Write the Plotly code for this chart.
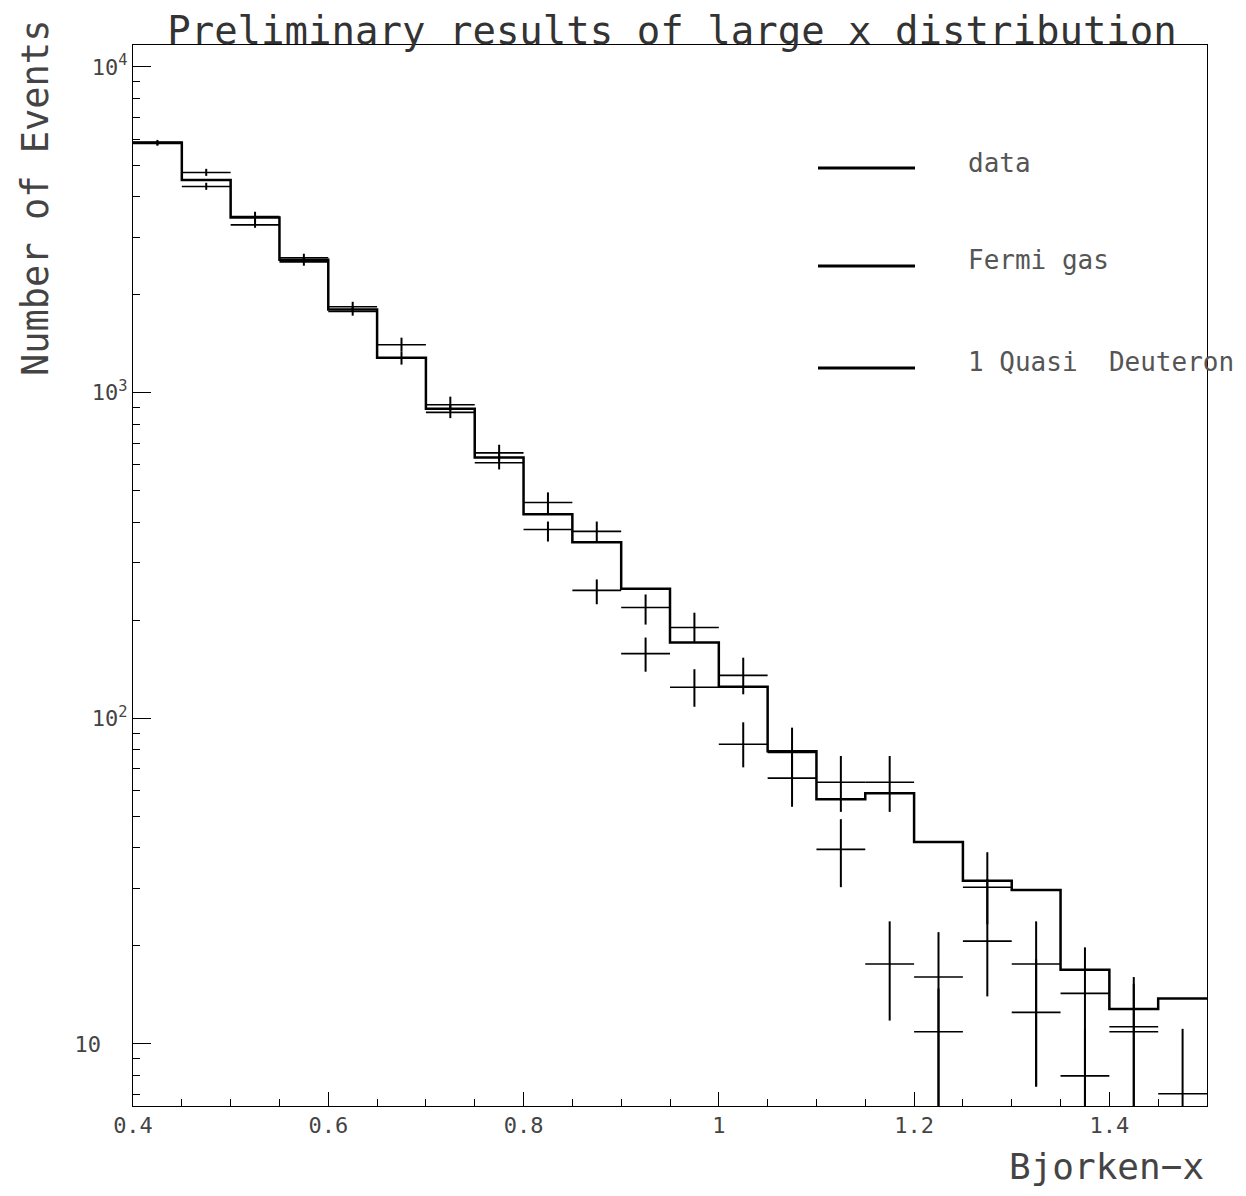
import math
import plotly.graph_objects as go

# ---------------- data ----------------
x_edges = [0.40, 0.45, 0.50, 0.55, 0.60, 0.65, 0.70, 0.75, 0.80, 0.85, 0.90,
           0.95, 1.00, 1.05, 1.10, 1.15, 1.20, 1.25, 1.30, 1.35, 1.40, 1.45, 1.50]

# step histogram ("1 Quasi Deuteron")
qd_hist = [5860, 4500, 3450, 2560, 1800, 1280, 893, 632, 423, 347, 250,
           171, 125, 79.2, 56.4, 58.9, 41.7, 31.7, 29.7, 16.9, 12.8, 13.8]

# upper set of crosses ("Fermi gas")
fermi_vals = [5860, 4740, 3470, 2595, 1835, 1403, 918, 653, 460, 375, 219,
              190, 135.5, 78.6, 63.6, 63.6, 16.05, 30.3, 17.6, 14.3, 11.3, 7.03]
fermi_err_up = [110, 126, 122, 75, 66, 72, 54, 39, 34, 27, 21,
                21, 18, 15, 13, 13, 6, 8.5, 6.2, 5.5, 4.75, 4.1]
fermi_err_dn = [95, 110, 125, 70, 60, 67, 38, 35, 37, 28, 25,
                19, 17, 13, 12, 12, 11, 7, 10.2, 10, 8, 4]

# lower set of crosses ("data")
data_vals = [5820, 4295, 3275, 2520, 1775, 1280, 870, 609, 380, 247, 158,
             124.5, 83.2, 65.5, 39.6, 17.6, 10.9, 20.7, 12.5, 7.98, 10.9, None]
data_err_up = [90, 114, 115, 75, 60, 56, 48, 36, 22, 20, 19,
               17, 14, 12, 9.4, 6.2, 3.9, 11.4, 5.7, 3.1, 4.4, None]
data_err_dn = [90, 100, 67, 67, 52, 61, 35, 28, 31, 23, 19,
               16, 12.5, 12, 9.3, 5.8, 6, 6.7, 5.1, 4, 6, None]

legend_labels = ["data", "Fermi gas", "1 Quasi\u00a0 Deuteron"]
title_text = "Preliminary results of large x distribution"
x_title = "Bjorken\u2212x"
y_title = "Number of Events"
y_tick_vals = [10, 100, 1000, 10000]
y_tick_text = ["10\u00a0\u00a0", "10<sup>2</sup>", "10<sup>3</sup>", "10<sup>4</sup>"]

# ---------------- derived ----------------
x_centers = [(a + b) / 2 for a, b in zip(x_edges[:-1], x_edges[1:])]
half_w = [(b - a) / 2 for a, b in zip(x_edges[:-1], x_edges[1:])]

OFF = 8                      # page body margin
W, H = 1230, 1180            # figure size
L, R, T, B = 133, 1207, 45, 1106   # plot frame in page pixels

FONT = "DejaVu Sans Mono"


def px_x(p):
    return (p - L) / (R - L)


def px_y(p):
    return (B - p) / (B - T)


fig = go.Figure()

# step histogram
fig.add_trace(go.Scatter(
    x=x_edges, y=qd_hist + [qd_hist[-1]], mode="lines",
    line=dict(color="black", width=2.5, shape="hv"),
    name="1 Quasi Deuteron", showlegend=False, hoverinfo="skip"))

# crosses
for vals, up, dn, nm in [(fermi_vals, fermi_err_up, fermi_err_dn, "Fermi gas"),
                         (data_vals, data_err_up, data_err_dn, "data")]:
    fig.add_trace(go.Scatter(
        x=x_centers, y=vals, mode="markers",
        marker=dict(size=1, color="black"),
        error_x=dict(type="data", array=half_w, symmetric=True,
                     color="black", thickness=1.6, width=0),
        error_y=dict(type="data", array=up, arrayminus=dn, symmetric=False,
                     color="black", thickness=2, width=0),
        name=nm, showlegend=False))

# manual legend
leg_y = [168, 266, 368]
txt_y = [163, 260, 362]
for lab, ly, ty in zip(legend_labels, leg_y, txt_y):
    fig.add_shape(type="line", xref="paper", yref="paper",
                  x0=px_x(818), x1=px_x(915), y0=px_y(ly), y1=px_y(ly),
                  line=dict(color="black", width=3))
    fig.add_annotation(text=lab, xref="paper", yref="paper",
                       x=px_x(966), y=px_y(ty), xanchor="left", yanchor="middle",
                       showarrow=False,
                       font=dict(family=FONT, size=26, color="#555"))

# axis titles
fig.add_annotation(text=y_title, xref="paper", yref="paper",
                   x=px_x(36), y=px_y(198), xanchor="center", yanchor="middle",
                   textangle=-90, showarrow=False,
                   font=dict(family=FONT, size=37, color="#444"))
fig.add_annotation(text=x_title, xref="paper", yref="paper",
                   x=px_x(1206), y=px_y(1166), xanchor="right", yanchor="middle",
                   showarrow=False,
                   font=dict(family=FONT, size=36, color="#444"))

ymin, ymax = 6.45, 11680
minor_y = [m * 10 ** k for k in range(0, 4) for m in range(2, 10)]

fig.update_layout(
    width=W, height=H,
    margin=dict(l=L - OFF, r=W - (R - OFF), t=T - OFF, b=H - (B - OFF)),
    paper_bgcolor="white", plot_bgcolor="white",
    title=dict(text=title_text, x=(672 - OFF) / W, y=1 - (30 - OFF) / H,
               xanchor="center", yanchor="middle",
               font=dict(family=FONT, size=39, color="#333")),
    xaxis=dict(range=[0.4, 1.5], tick0=0.4, dtick=0.2,
               ticks="inside", ticklen=14, tickwidth=1, tickcolor="black",
               minor=dict(dtick=0.05, ticks="inside", ticklen=7, tickcolor="black"),
               showline=True, linecolor="black", linewidth=1, mirror=True,
               showgrid=False, zeroline=False,
               tickfont=dict(family=FONT, size=22, color="#444")),
    yaxis=dict(type="log", range=[math.log10(ymin), math.log10(ymax)],
               tickvals=y_tick_vals, ticktext=y_tick_text,
               ticks="inside", ticklen=18, tickwidth=1, tickcolor="black",
               minor=dict(tickvals=minor_y, ticks="inside", ticklen=7,
                          tickcolor="black", showgrid=False),
               showline=True, linecolor="black", linewidth=1, mirror=True,
               showgrid=False, zeroline=False,
               tickfont=dict(family=FONT, size=22, color="#444")),
)

fig.write_html("out.html")
